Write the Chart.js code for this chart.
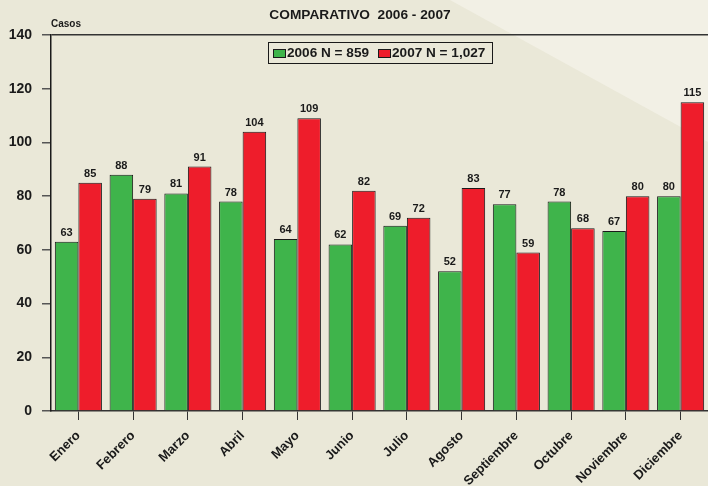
<!DOCTYPE html>
<html>
<head>
<meta charset="utf-8">
<script src="https://cdn.jsdelivr.net/npm/chart.js@4/dist/chart.umd.min.js"></script>
<style>
  html, body { margin: 0; padding: 0; background: #eae8d8; }
  #wrap { width: 708px; height: 486px; position: relative; }
</style>
</head>
<body>
<div id="wrap"><canvas id="chart"></canvas></div>
<script>
const months = ['Enero', 'Febrero', 'Marzo', 'Abril', 'Mayo', 'Junio', 'Julio', 'Agosto', 'Septiembre', 'Octubre', 'Noviembre', 'Diciembre'];
const values2006 = [63, 88, 81, 78, 64, 62, 69, 52, 77, 78, 67, 80];
const values2007 = [85, 79, 91, 104, 109, 82, 72, 83, 59, 68, 80, 115];
const yTicks = [0, 20, 40, 60, 80, 100, 120, 140];

const COLORS = {
  bg: '#eae8d8',
  bgLight: '#f2f0e5',
  green: '#3fb44b',
  red: '#ee1d2b',
  ink: '#1a1a1a',
  axis: '#333333',
};
const FONT = '"Liberation Sans", Arial, sans-serif';

// background with lighter diagonal band top-right
const backdrop = {
  id: 'backdrop',
  beforeDraw(chart) {
    const { ctx, width, height } = chart;
    ctx.save();
    ctx.fillStyle = COLORS.bg;
    ctx.fillRect(0, 0, width, height);
    ctx.fillStyle = COLORS.bgLight;
    ctx.beginPath();
    ctx.moveTo(450, 0);
    ctx.lineTo(width, 0);
    ctx.lineTo(width, 142);
    ctx.closePath();
    ctx.fill();
    ctx.restore();
  },
};

// title, "Casos", legend box, value labels
const decorations = {
  id: 'decorations',
  afterDraw(chart) {
    const { ctx } = chart;
    ctx.save();
    ctx.fillStyle = COLORS.ink;
    ctx.textBaseline = 'middle';

    ctx.font = 'bold 13.7px ' + FONT;
    ctx.textAlign = 'center';
    ctx.fillText('COMPARATIVO  2006 - 2007', 360, 15);

    ctx.font = 'bold 10px ' + FONT;
    ctx.textAlign = 'left';
    ctx.fillText('Casos', 51, 24);

    // legend
    ctx.strokeStyle = COLORS.ink;
    ctx.lineWidth = 1;
    ctx.strokeRect(268.5, 42.5, 224, 21);
    ctx.font = 'bold 13.6px ' + FONT;
    let x = 273;
    chart.data.datasets.forEach(ds => {
      ctx.fillStyle = ds.backgroundColor;
      ctx.fillRect(x, 49, 13, 9);
      ctx.strokeRect(x + 0.5, 49.5, 12, 8);
      ctx.fillStyle = COLORS.ink;
      ctx.fillText(ds.label, x + 14, 53.5);
      x += 14 + ctx.measureText(ds.label).width + 9;
    });

    // value labels
    ctx.font = 'bold 11px ' + FONT;
    ctx.textAlign = 'center';
    ctx.textBaseline = 'alphabetic';
    chart.data.datasets.forEach((ds, i) => {
      chart.getDatasetMeta(i).data.forEach((bar, j) => {
        ctx.fillText(String(ds.data[j]), bar.x, bar.y - 6);
      });
    });
    ctx.restore();
  },
};

new Chart(document.getElementById('chart'), {
  type: 'bar',
  data: {
    labels: months,
    datasets: [
      { label: '2006 N = 859', data: values2006, backgroundColor: COLORS.green, borderColor: COLORS.ink, borderWidth: 1 },
      { label: '2007 N = 1,027', data: values2007, backgroundColor: COLORS.red, borderColor: COLORS.ink, borderWidth: 1 },
    ],
  },
  options: {
    responsive: true,
    maintainAspectRatio: false,
    animation: false,
    devicePixelRatio: 1,
    layout: { padding: { top: 35, right: 0, left: 0, bottom: 0 } },
    plugins: { legend: { display: false }, tooltip: { enabled: false } },
    datasets: { bar: { categoryPercentage: 0.86, barPercentage: 1.0 } },
    scales: {
      x: {
        afterFit: (s) => { s.height = 75; },
        grid: { offset: false, drawOnChartArea: false, tickLength: 9, tickColor: COLORS.axis },
        border: { color: COLORS.axis, width: 1.5 },
        ticks: {
          color: COLORS.ink,
          font: { family: FONT, weight: 'bold', size: 13 },
          minRotation: 45,
          maxRotation: 45,
          autoSkip: false,
          padding: 8,
        },
      },
      y: {
        min: 0,
        max: 140,
        afterFit: (s) => { s.width = 51; },
        afterBuildTicks: (s) => { s.ticks = yTicks.map(v => ({ value: v })); },
        grid: {
          color: (c) => (c.tick && c.tick.value === 140 ? COLORS.axis : 'transparent'),
          lineWidth: 1.5,
          tickLength: 9,
          tickColor: '#555555',
        },
        border: { color: COLORS.ink, width: 1.5 },
        ticks: {
          color: COLORS.ink,
          font: { family: FONT, weight: 'bold', size: 14 },
          padding: 10,
        },
      },
    },
  },
  plugins: [backdrop, decorations],
});
</script>
</body>
</html>
